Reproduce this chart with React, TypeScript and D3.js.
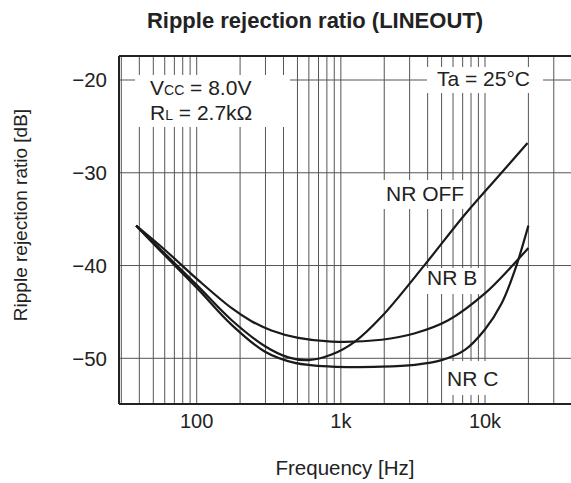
import React from "react";
import * as d3 from "d3";

const title = "Ripple rejection ratio (LINEOUT)";
const xLabel = "Frequency [Hz]";
const yLabel = "Ripple rejection ratio [dB]";

const xTicks = [100, 1000, 10000];
const xTickLabels = ["100", "1k", "10k"];
const yTicks = [-20, -30, -40, -50];
const yTickLabels = ["\u221220", "\u221230", "\u221240", "\u221250"];
const minorFreqs = [
  30, 40, 50, 60, 70, 80, 90, 100, 200, 300, 400, 500, 600, 700, 800, 900,
  1000, 2000, 3000, 4000, 5000, 6000, 7000, 8000, 9000, 10000, 20000, 30000,
];

const nrOffFreq = [38, 60, 103, 175, 298, 432, 594, 863, 1253, 1920, 3830, 7254, 12350, 19730];
const nrOffDb = [-35.7, -38.7, -42.3, -45.9, -48.7, -49.9, -50.2, -49.6, -48.2, -45.5, -39.9, -34.5, -30.4, -26.8];

const nrBFreq = [38, 60, 103, 175, 240, 330, 507, 863, 1920, 3270, 5560, 9985, 15290, 20000];
const nrBDb = [-35.7, -38.3, -41.6, -44.6, -46.0, -47.0, -47.8, -48.2, -48.0, -47.3, -45.9, -43.0, -40.1, -38.1];

const nrCFreq = [38, 60, 103, 175, 298, 480, 863, 1920, 3265, 5000, 7254, 9985, 13030, 16120, 20000];
const nrCDb = [-35.7, -38.9, -42.6, -46.4, -49.3, -50.5, -50.9, -50.9, -50.7, -50.2, -49.1, -46.9, -44.1, -40.5, -35.7];

const series = [
  { name: "NR OFF", f: nrOffFreq, v: nrOffDb },
  { name: "NR B", f: nrBFreq, v: nrBDb },
  { name: "NR C", f: nrCFreq, v: nrCDb },
];

const FONT = "'Liberation Sans', Arial, Helvetica, sans-serif";

export default function App() {
  const left = 119;
  const right = 574;
  const top = 56;
  const bottom = 404;

  const x = d3.scaleLog().domain([100, 10000]).range([196.7, 485]);
  const y = d3.scaleLinear().domain([-20, -50]).range([80, 358.3]);

  const line = d3
    .line<[number, number]>()
    .x((d) => x(d[0]))
    .y((d) => y(d[1]))
    .curve(d3.curveCatmullRom.alpha(0.5));

  const gridColor = "#555";

  return (
    <svg
      width={571}
      height={483}
      style={{ position: "absolute", left: 0, top: 0, background: "#fff" }}
      fontFamily={FONT}
    >
      <rect x={0} y={0} width={571} height={483} fill="#fff" />
      <text x={315} y={28} textAnchor="middle" fontWeight="bold" fontSize={22} fill="#222">
        {title}
      </text>

      {/* grid */}
      {minorFreqs.map((f) => (
        <line
          key={"v" + f}
          x1={x(f)}
          x2={x(f)}
          y1={top}
          y2={bottom}
          stroke={gridColor}
          strokeWidth={1}
        />
      ))}
      {yTicks.map((t) => (
        <line
          key={"h" + t}
          x1={left}
          x2={right}
          y1={y(t)}
          y2={y(t)}
          stroke={gridColor}
          strokeWidth={1}
        />
      ))}

      {/* white label boxes */}
      <rect x={135} y={75} width={155} height={52} fill="#fff" />
      <rect x={427} y={67} width={116} height={26} fill="#fff" />
      <rect x={383} y={180} width={83} height={29} fill="#fff" />
      <rect x={424} y={268} width={57} height={26} fill="#fff" />
      <rect x={444} y={361} width={54} height={34} fill="#fff" />

      {/* curves */}
      {series.map((s) => (
        <path
          key={s.name}
          d={line(s.f.map((f, i) => [f, s.v[i]] as [number, number])) || ""}
          fill="none"
          stroke="#1a1a1a"
          strokeWidth={2.2}
        />
      ))}

      {/* frame */}
      <line x1={left} x2={right} y1={top} y2={top} stroke="#222" strokeWidth={2} />
      <line x1={left} x2={right} y1={bottom} y2={bottom} stroke="#222" strokeWidth={2} />
      <line x1={left} x2={left} y1={top} y2={bottom} stroke="#222" strokeWidth={2} />

      {/* annotations */}
      <text x={150} y={95} fontSize={21} fill="#222">
        V<tspan fontSize={14}>CC</tspan> = 8.0V
      </text>
      <text x={150} y={120} fontSize={21} fill="#222">
        R<tspan fontSize={14}>L</tspan> = 2.7kΩ
      </text>
      <text x={437} y={86} fontSize={21} fill="#222">
        Ta = 25°C
      </text>
      <text x={386} y={201} fontSize={21} fill="#222">
        NR OFF
      </text>
      <text x={427} y={285} fontSize={21} fill="#222">
        NR B
      </text>
      <text x={447} y={386} fontSize={21} fill="#222">
        NR C
      </text>

      {/* tick labels */}
      {xTicks.map((t, i) => (
        <text key={"xt" + t} x={x(t)} y={428} textAnchor="middle" fontSize={20} fill="#222">
          {xTickLabels[i]}
        </text>
      ))}
      {yTicks.map((t, i) => (
        <text
          key={"yt" + t}
          x={107}
          y={y(t)}
          dy="0.36em"
          textAnchor="end"
          fontSize={20.5}
          fill="#222"
        >
          {yTickLabels[i]}
        </text>
      ))}

      <text x={345} y={475} textAnchor="middle" fontSize={20.5} fill="#222">
        {xLabel}
      </text>
      <text
        transform={`translate(27,215) rotate(-90)`}
        textAnchor="middle"
        fontSize={19}
        fill="#222"
      >
        {yLabel}
      </text>
    </svg>
  );
}
